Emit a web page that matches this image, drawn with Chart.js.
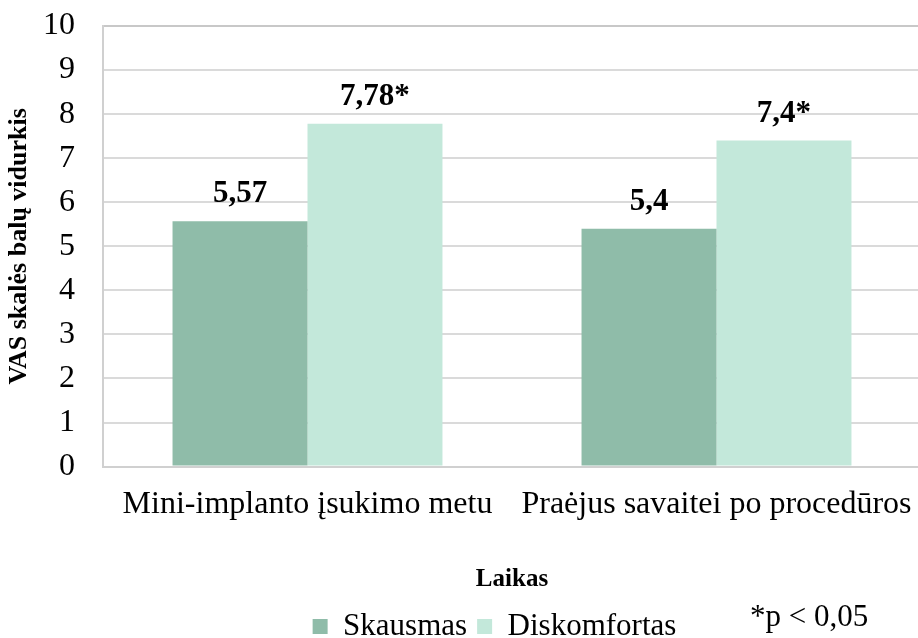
<!DOCTYPE html>
<html>
<head>
<meta charset="utf-8">
<script src="https://cdn.jsdelivr.net/npm/chart.js@4.4.1/dist/chart.umd.min.js"></script>
<style>
html, body { margin: 0; padding: 0; background: #fff; overflow: hidden; }
#wrap { width: 924px; height: 652px; }
</style>
</head>
<body>
<div id="wrap"><canvas id="graphe"></canvas></div>
<script>
// data
var categories = ['Mini-implanto įsukimo metu', 'Praėjus savaitei po procedūros'];
var seriesNames = ['Skausmas', 'Diskomfortas'];
var skausmas = [5.57, 5.4];
var diskomfortas = [7.78, 7.4];
// significance marks printed after the value
var skausmasMarks = ['', ''];
var diskomfortasMarks = ['*', '*'];
var yMin = 0, yMax = 10, yStep = 1;
var yTitle = 'VAS skalės balų vidurkis';
var xTitle = 'Laikas';
var note = '*p < 0,05';

var serif = 'Liberation Serif';

//draws value labels above every bar, plus the p-value note
var valueLabels = {
    id: 'valueLabels',
    afterLayout: function(chart) {
        //legend sits a bit right of centre in the original
        if (chart.legend) {
            chart.legend.left += 34;
            chart.legend.right += 34;
        }
    },
    afterDatasetsDraw: function(chart) {
        var ctx = chart.ctx;
        var marks = [skausmasMarks, diskomfortasMarks];
        ctx.save();
        ctx.font = 'bold 31px "' + serif + '"';
        ctx.fillStyle = '#000';
        ctx.textAlign = 'center';
        ctx.textBaseline = 'alphabetic';
        chart.data.datasets.forEach(function(ds, d) {
            var meta = chart.getDatasetMeta(d);
            meta.data.forEach(function(bar, i) {
                var txt = String(ds.data[i]).replace('.', ',') + marks[d][i];
                ctx.fillText(txt, bar.x, bar.y - 19);
            });
        });
        ctx.restore();
    },
    afterDraw: function(chart) {
        var ctx = chart.ctx;
        ctx.save();
        ctx.font = '31px "' + serif + '"';
        ctx.fillStyle = '#000';
        ctx.textAlign = 'left';
        ctx.textBaseline = 'alphabetic';
        ctx.fillText(note, 750, 626);
        ctx.restore();
    }
};

var ctx = document.getElementById('graphe').getContext('2d');
var myChart = new Chart(ctx, {
    type: 'bar',
    data: {
        labels: categories,
        datasets: [{
            label: seriesNames[0],
            data: skausmas,
            backgroundColor: '#8fbca9'
        },
        {
            label: seriesNames[1],
            data: diskomfortas,
            backgroundColor: '#c3e8da'
        }]
    },
    options: {
        responsive: true,
        maintainAspectRatio: false,
        animation: false,
        layout: { padding: { top: 26, right: 3, left: 0, bottom: 0 } },
        datasets: { bar: { categoryPercentage: 0.66, barPercentage: 1 } },
        scales: {
            x: {
                grid: { display: false, drawTicks: false },
                border: { display: true, color: '#d0d0d0', width: 2 },
                ticks: { color: '#000', padding: 19, maxRotation: 0, font: { family: serif, size: 32 } },
                title: { display: true, text: xTitle, color: '#000', padding: { top: 22, bottom: 6 }, font: { family: serif, size: 25, weight: 'bold' } },
                afterFit: function(scale) {
                    //long category labels must not squeeze the plot
                    scale.paddingLeft = 0;
                    scale.paddingRight = 0;
                }
            },
            y: {
                min: yMin,
                max: yMax,
                grid: {
                    drawTicks: false,
                    lineWidth: 2,
                    color: function(c) { return c.tick && c.tick.value === yMax ? '#c8c8c8' : '#dadada'; }
                },
                border: { display: true, color: '#d0d0d0', width: 2 },
                ticks: { stepSize: yStep, color: '#000', padding: 28, font: { family: serif, size: 32 } },
                title: { display: true, text: yTitle, color: '#000', padding: { top: 4, bottom: 0 }, font: { family: serif, size: 26, weight: 'bold' } },
                afterFit: function(scale) {
                    scale.width = 103;
                    //tick padding would otherwise push the plot down
                    scale.paddingTop = 0;
                    scale.paddingBottom = 0;
                }
            }
        },
        plugins: {
            legend: {
                position: 'bottom',
                labels: { color: '#000', boxWidth: 15, boxHeight: 15, padding: 10, font: { family: serif, size: 31 } }
            },
            tooltip: { enabled: false }
        }
    },
    plugins: [valueLabels]
});
</script>
</body>
</html>
